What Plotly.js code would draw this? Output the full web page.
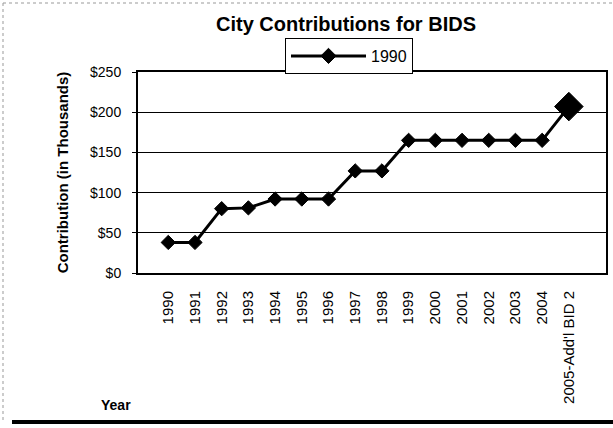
<!DOCTYPE html>
<html>
<head>
<meta charset="utf-8">
<script src="https://cdn.plot.ly/plotly-3.0.1.min.js"></script>
<style>html,body{margin:0;padding:0;background:#fff;}#chart{width:613px;height:428px;}</style>
</head>
<body>
<div id="chart"></div>
<script>
const categories = ["1990","1991","1992","1993","1994","1995","1996","1997","1998","1999","2000","2001","2002","2003","2004","2005-Add'l BID 2"];
const contributions = [38, 38, 80, 81, 92, 92, 92, 127, 127, 165, 165, 165, 165, 165, 165, 207];
const seriesName = "1990";
const yTicks = [0, 50, 100, 150, 200, 250];

const markerSizes = contributions.map((v, i) => i === contributions.length - 1 ? 22 : 11);

const trace = {
  type: 'scatter',
  mode: 'lines+markers',
  x: categories,
  y: contributions,
  name: seriesName,
  line: {color: '#000', width: 3},
  marker: {symbol: 'diamond', color: '#000', opacity: 1, size: markerSizes, line: {color: '#000', width: 1}}
};

const L = 138, R = 606, T = 72, B = 273;
const PW = R - L, PH = B - T;
const px = x => (x - L) / PW;
const py = y => (B - y) / PH;

const layout = {
  width: 613, height: 428,
  margin: {l: L, r: 613 - R, t: T, b: 428 - B},
  paper_bgcolor: '#fff', plot_bgcolor: '#fff',
  font: {family: 'Liberation Sans, Arial, sans-serif', color: '#000'},
  title: {text: '<b>City Contributions for BIDS</b>', x: 346 / 613, xanchor: 'center', y: 1 - 24 / 428, yanchor: 'middle', font: {size: 20, color: '#000'}},
  showlegend: true,
  legend: {x: px(285), xanchor: 'left', y: py(38), yanchor: 'top', orientation: 'h', bordercolor: '#000', borderwidth: 1, bgcolor: '#fff', font: {size: 16, color: '#000'}, itemwidth: 75, tracegroupgap: 0},
  xaxis: {
    type: 'category', tickangle: -90, tickfont: {size: 15, color: '#000'},
    showline: true, linecolor: '#000', linewidth: 2, mirror: true,
    ticks: '', showgrid: false, zeroline: false, ticklabelstandoff: 10
  },
  yaxis: {
    range: [0, 250], tickvals: yTicks, ticktext: yTicks.map(v => '$' + v),
    tickfont: {size: 14, color: '#000'},
    showline: true, linecolor: '#000', linewidth: 2, mirror: true,
    ticks: 'outside', ticklen: 4, tickcolor: '#000',
    showgrid: true, gridcolor: '#000', gridwidth: 1, zeroline: false,
    ticklabelstandoff: 8,
    title: {text: '<b>Contribution (in Thousands)</b>', font: {size: 15, color: '#000'}, standoff: 18}
  },
  annotations: [
    {text: '<b>Year</b>', xref: 'paper', yref: 'paper', x: px(116), y: py(405), xanchor: 'center', yanchor: 'middle', showarrow: false, font: {size: 14, color: '#000'}}
  ],
  shapes: [
    {type: 'line', xref: 'paper', yref: 'paper', x0: px(12), x1: px(613), y0: py(422), y1: py(422), line: {color: '#000', width: 4}},
    {type: 'line', xref: 'paper', yref: 'paper', x0: px(3), x1: px(613), y0: py(3), y1: py(3), line: {color: '#999', width: 1, dash: 'dot'}},
    {type: 'line', xref: 'paper', yref: 'paper', x0: px(3), x1: px(3), y0: py(3), y1: py(420), line: {color: '#999', width: 1, dash: 'dot'}}
  ]
};

Plotly.newPlot('chart', [trace], layout, {displayModeBar: false, staticPlot: true});
</script>
</body>
</html>
